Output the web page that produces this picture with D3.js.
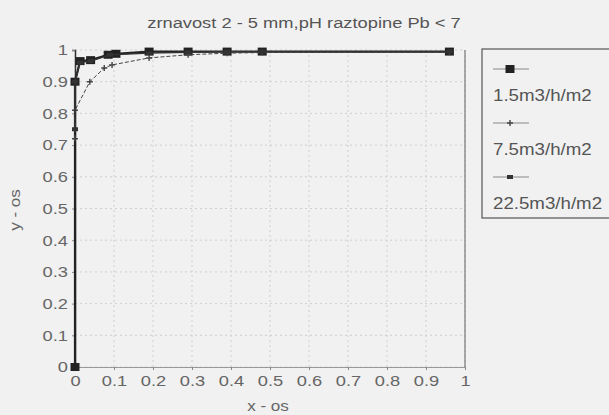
<!DOCTYPE html>
<html>
<head>
<meta charset="utf-8">
<script src="https://cdn.jsdelivr.net/npm/d3@7"></script>
<style>
  body { margin: 0; background: #f1f1f1; }
  svg { font-family: "Liberation Sans", Arial, sans-serif; }
</style>
</head>
<body>
<div id="chart"></div>
<script>
// data
var seriesNames = ["1.5m3/h/m2", "7.5m3/h/m2", "22.5m3/h/m2"];
var x1 = [0, 0, 0.013, 0.04, 0.085, 0.105, 0.19, 0.29, 0.39, 0.48, 0.96];
var y1 = [0, 0.9, 0.965, 0.968, 0.985, 0.988, 0.995, 0.995, 0.995, 0.995, 0.995];
var x2 = [0, 0, 0.038, 0.075, 0.095, 0.19, 0.29, 0.39, 0.48, 0.96];
var y2 = [0.72, 0.81, 0.9, 0.943, 0.953, 0.975, 0.985, 0.99, 0.992, 0.993];
var x3 = [0, 0, 0.013, 0.04, 0.09, 0.19, 0.29, 0.39, 0.48, 0.96];
var y3 = [0.75, 0.9, 0.96, 0.965, 0.985, 0.99, 0.993, 0.995, 0.995, 0.995];
var ticks = [0, 0.1, 0.2, 0.3, 0.4, 0.5, 0.6, 0.7, 0.8, 0.9, 1];

var series = [
  {name: seriesNames[0], xs: x1, ys: y1, color: "#222", width: 2.2, dash: null, marker: "bigsq"},
  {name: seriesNames[1], xs: x2, ys: y2, color: "#444", width: 1, dash: "4,2", marker: "plus"},
  {name: seriesNames[2], xs: x3, ys: y3, color: "#333", width: 1.4, dash: null, marker: "smsq"}
];

var sx = 1.22; // the scan is stretched sideways, so the text is too

var svg = d3.select("#chart").append("svg").attr("width", 609).attr("height", 415),
    margin = {top: 50, left: 75},
    width = 390, height = 317;

var g = svg.append("g").attr("transform", "translate(" + margin.left + "," + margin.top + ")");

var x = d3.scaleLinear().domain([0, 1]).range([0, width]);
var y = d3.scaleLinear().domain([0, 1]).range([height, 0]);

// dotted grid
g.selectAll(".vgrid").data(ticks).enter().append("line")
  .attr("x1", function(d) { return x(d); }).attr("x2", function(d) { return x(d); })
  .attr("y1", 0).attr("y2", height)
  .attr("stroke", "#cfcfcf").attr("stroke-dasharray", "2,3");
g.selectAll(".hgrid").data(ticks).enter().append("line")
  .attr("y1", function(d) { return y(d); }).attr("y2", function(d) { return y(d); })
  .attr("x1", 0).attr("x2", width)
  .attr("stroke", "#cfcfcf").attr("stroke-dasharray", "2,3");

// right border
g.append("line").attr("x1", width).attr("x2", width).attr("y1", 0).attr("y2", height)
  .attr("stroke", "#777").attr("stroke-width", 1.2);

var xAxis = g.append("g").attr("transform", "translate(0," + height + ")")
  .call(d3.axisBottom(x).tickValues(ticks).tickSize(3).tickFormat(d3.format("")));
var yAxis = g.append("g")
  .call(d3.axisLeft(y).tickValues(ticks).tickSize(3).tickFormat(d3.format("")));
xAxis.select(".domain").attr("stroke", "#999");
yAxis.select(".domain").attr("stroke", "#333").attr("stroke-width", 1.5);
xAxis.selectAll("line").attr("stroke", "#888");
yAxis.selectAll("line").attr("stroke", "#888");
xAxis.selectAll("text").attr("font-size", 15).attr("fill", "#666").attr("dy", "0.9em")
  .attr("transform", "scale(" + sx + ",1)");
yAxis.selectAll("text").attr("font-size", 15).attr("fill", "#666").attr("x", -7 / sx)
  .attr("transform", "scale(" + sx + ",1)");
xAxis.attr("font-family", null);
yAxis.attr("font-family", null);

var line = d3.line().x(function(d) { return x(d[0]); }).y(function(d) { return y(d[1]); });

function drawMarker(sel, type, color) {
  if (type == "bigsq") {
    sel.append("rect").attr("x", -4.5).attr("y", -4).attr("width", 9).attr("height", 8).attr("fill", color);
  } else if (type == "plus") {
    sel.append("path").attr("d", "M-3,0H3M0,-3V3").attr("stroke", color).attr("stroke-width", 1.4);
  } else {
    sel.append("rect").attr("x", -3).attr("y", -2).attr("width", 6).attr("height", 4).attr("fill", color);
  }
}

series.forEach(function(s) {
  var pts = s.xs.map(function(v, i) { return [v, s.ys[i]]; });
  g.append("path").datum(pts).attr("d", line)
    .attr("fill", "none").attr("stroke", s.color).attr("stroke-width", s.width)
    .attr("stroke-dasharray", s.dash);
  g.selectAll(null).data(pts).enter().append("g")
    .attr("transform", function(d) { return "translate(" + x(d[0]) + "," + y(d[1]) + ")"; })
    .each(function() { drawMarker(d3.select(this), s.marker, s.color); });
});

// title + axis titles
svg.append("text").attr("transform", "translate(304,28) scale(" + sx + ",1)").attr("text-anchor", "middle")
  .attr("font-size", 15).attr("fill", "#555").text("zrnavost 2 - 5 mm,pH raztopine Pb < 7");
svg.append("text").attr("transform", "translate(268,411) scale(" + sx + ",1)").attr("text-anchor", "middle")
  .attr("font-size", 14).attr("fill", "#666").text("x - os");
svg.append("text").attr("transform", "translate(20,210) rotate(-90) scale(" + sx + ",1)").attr("text-anchor", "middle")
  .attr("font-size", 14).attr("fill", "#666").text("y - os");

// legend
var legend = svg.append("g").attr("transform", "translate(482,49)");
legend.append("rect").attr("x", 0).attr("y", 0).attr("width", 140).attr("height", 169)
  .attr("fill", "none").attr("stroke", "#555").attr("stroke-width", 1.2);
var items = legend.selectAll(".item").data(series).enter().append("g")
  .attr("transform", function(d, i) { return "translate(0," + (20 + i * 54) + ")"; });
items.append("line").attr("x1", 11).attr("x2", 47).attr("y1", 0).attr("y2", 0)
  .attr("stroke", "#888").attr("stroke-width", 1);
items.each(function(d) {
  var m = d3.select(this).append("g").attr("transform", "translate(28,0)");
  drawMarker(m, d.marker, d.color);
});
items.append("text").attr("transform", "translate(11,32) scale(1.1,1)")
  .attr("font-size", 17).attr("fill", "#555")
  .text(function(d) { return d.name; });
</script>
</body>
</html>
